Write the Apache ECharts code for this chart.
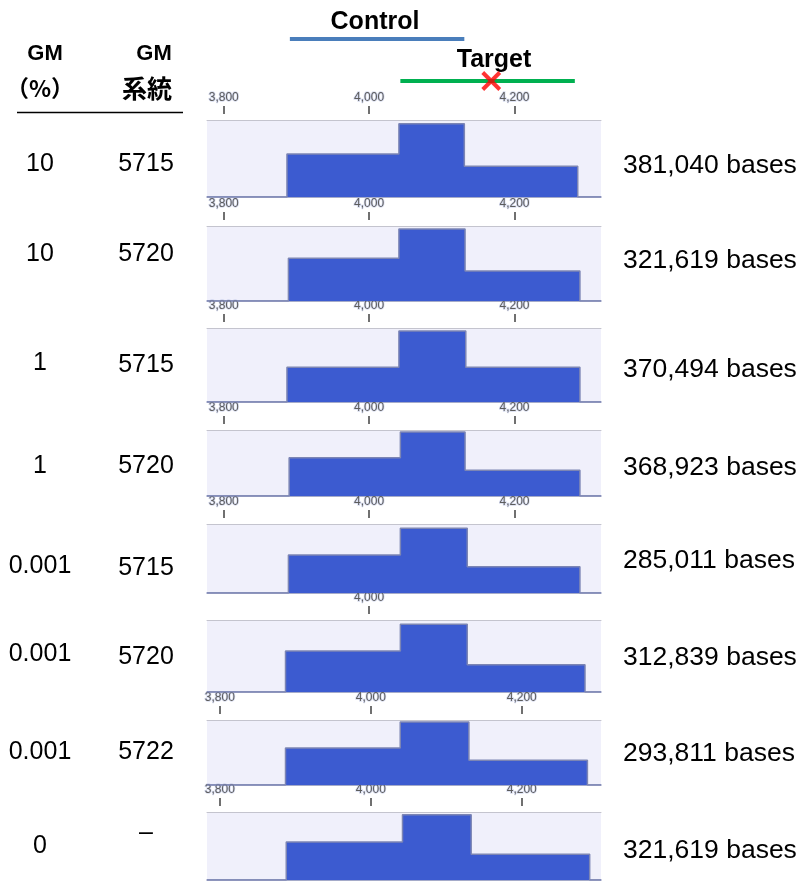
<!DOCTYPE html>
<html>
<head>
<meta charset="utf-8">
<script src="https://cdn.jsdelivr.net/npm/echarts@6/dist/echarts.min.js"></script>
<style>
html,body{margin:0;padding:0;background:#fff}
#c{width:799px;height:881px}
</style>
</head>
<body>
<div id="c"></div>
<script>
// Sample annotations per coverage track
const gmPercent = ['10', '10', '1', '1', '0.001', '0.001', '0.001', '0'];
const gmLine = ['5715', '5720', '5715', '5720', '5715', '5720', '5722', '–'];
const baseCounts = ['381,040', '321,619', '370,494', '368,923', '285,011', '312,839', '293,811', '321,619'];

// Coverage step edges (bp): rise, centre start, centre end, fall
const stepEdges = [
  [3887, 4041, 4131, 4287],
  [3889, 4041, 4132, 4290],
  [3887, 4041, 4133, 4290],
  [3890, 4043, 4132, 4290],
  [3889, 4043, 4135, 4290],
  [3885, 4043, 4135, 4297],
  [3887, 4039, 4130, 4287],
  [3888, 4042, 4133, 4290]
];
// Relative read depth (% of track maximum) of the three plateaus
const depthLeft = [56, 57, 47, 58, 55, 57, 57, 56];
const depthCenter = [95, 96, 96, 97, 94, 94, 97, 96];
const depthRight = [40, 40, 47, 39, 38, 38, 38, 38];

// Ruler tick values shown above each track
const rulerTicks = [
  [3800, 4000, 4200], [3800, 4000, 4200], [3800, 4000, 4200], [3800, 4000, 4200],
  [3800, 4000, 4200], [4000], [3800, 4000, 4200], [3800, 4000, 4200]
];
// Visible window of each track (bp)
const viewMin = [3777, 3777, 3777, 3777, 3777, 3777, 3783, 3783];
const viewMax = [4319, 4319, 4319, 4319, 4319, 4319, 4305, 4305];

// Amplicon regions and mutation site
const regionNames = ['Control', 'Target'];
const controlRegion = [3891, 4131];
const targetRegion = [4043, 4283];
const mutationPos = 4168;

// ---- layout ----
const panelLeft = 207, panelWidth = 394;
const panelTop = [120, 226, 328, 430, 524, 620, 720, 812];
const panelBottom = [197, 301, 402, 496, 593, 692, 785, 880];
const rowY1 = [164, 254, 363, 466, 566, 654, 752, 846];
const rowY2 = [164, 254, 365, 466, 568, 657, 752, 833];
const rowY3 = [166, 261, 370, 468, 561, 658, 754, 851];

const FONT = '"Liberation Sans", Arial, "Noto Sans CJK JP", sans-serif';
const CJK = '"Noto Sans CJK JP", "Liberation Sans", sans-serif';

const grid = [], xAxis = [], yAxis = [], series = [];

const fmt = v => v.toLocaleString('en-US');

stepEdges.forEach((e, i) => {
  grid.push({
    left: panelLeft, width: panelWidth,
    top: panelTop[i], height: panelBottom[i] - panelTop[i],
    show: true, backgroundColor: '#f0f0fb', borderWidth: 0
  });
  const base = { type: 'value', gridIndex: i, min: viewMin[i], max: viewMax[i],
    splitLine: { show: false }, axisTick: { show: false }, axisLabel: { show: false } };
  // bottom baseline
  xAxis.push(Object.assign({}, base, {
    position: 'bottom',
    axisLine: { show: true, lineStyle: { color: '#8890b8', width: 1.5 } }
  }));
  // top border of the track
  xAxis.push(Object.assign({}, base, {
    position: 'top',
    axisLine: { show: true, lineStyle: { color: '#c4c4ce', width: 1 } }
  }));
  // ruler with position ticks
  xAxis.push(Object.assign({}, base, {
    position: 'top', offset: 6,
    axisLine: { show: false },
    axisTick: { show: true, length: 8, customValues: rulerTicks[i],
      lineStyle: { color: '#707070', width: 2 } },
    axisLabel: { show: true, customValues: rulerTicks[i], margin: 10,
      formatter: fmt, fontFamily: FONT, fontSize: 12, color: '#5c5c5c',
      textBorderColor: 'rgba(175,185,225,0.5)', textBorderWidth: 1.5 }
  }));
  yAxis.push({ type: 'value', gridIndex: i, min: 0, max: 100, show: false });

  const l = depthLeft[i], c = depthCenter[i], r = depthRight[i];
  const data = [
    [viewMin[i], 0], [e[0], 0], [e[0], l], [e[1], l], [e[1], c],
    [e[2], c], [e[2], r], [e[3], r], [e[3], 0], [viewMax[i], 0]
  ];
  series.push({
    type: 'line', xAxisIndex: 3 * i, yAxisIndex: i,
    data: data, symbol: 'none', silent: true, animation: false,
    lineStyle: { color: '#7c85b4', width: 1.5 },
    areaStyle: { color: '#3c5bd0', opacity: 1 }
  });
});

// Amplicon region bars above the first track
const gi = grid.length;
grid.push({ left: panelLeft, width: panelWidth, top: 18, height: 84, show: false });
xAxis.push({ type: 'value', gridIndex: gi, min: viewMin[0], max: viewMax[0], show: false });
yAxis.push({ type: 'category', gridIndex: gi, data: regionNames, inverse: true, show: false });
const xi = xAxis.length - 1, yi = yAxis.length - 1;
series.push({
  type: 'line', xAxisIndex: xi, yAxisIndex: yi, symbol: 'none', animation: false,
  data: [[controlRegion[0], 'Control'], [controlRegion[1], 'Control']],
  lineStyle: { color: '#4a7ebb', width: 4 }
});
series.push({
  type: 'line', xAxisIndex: xi, yAxisIndex: yi, symbol: 'none', animation: false,
  data: [[targetRegion[0], 'Target'], [targetRegion[1], 'Target']],
  lineStyle: { color: '#00b050', width: 4 }
});
series.push({
  type: 'scatter', xAxisIndex: xi, yAxisIndex: yi, animation: false, z: 5,
  data: [[mutationPos, 'Target']],
  symbol: 'path://M0,0L10,10M10,0L0,10', symbolSize: 17,
  itemStyle: { color: 'none', borderColor: '#ff0000', borderWidth: 4 }
});

// Text annotations
const graphic = [];
const txt = (text, x, y, opts) => graphic.push({
  type: 'text', silent: true,
  style: Object.assign({ text, x, y, fill: '#000', textAlign: 'center',
    textVerticalAlign: 'middle', font: '25px ' + FONT }, opts || {})
});
txt('Control', 375, 22, { font: 'bold 25px ' + FONT });
txt('Target', 494, 60, { font: 'bold 25px ' + FONT });
txt('GM', 45, 54, { font: 'bold 22px ' + FONT });
txt('（%）', 40, 88, { font: 'bold 23px ' + CJK });
txt('GM', 154, 54, { font: 'bold 22px ' + FONT });
txt('系統', 147, 88, { font: 'bold 25px ' + CJK });
graphic.push({ type: 'line', silent: true,
  shape: { x1: 17, y1: 112.5, x2: 183, y2: 112.5 },
  style: { stroke: '#000', lineWidth: 1.5 } });

gmPercent.forEach((t, i) => txt(t, 40, rowY1[i]));
gmLine.forEach((t, i) => txt(t, 146, rowY2[i]));
baseCounts.forEach((t, i) => txt(t + ' bases', 623, rowY3[i],
  { textAlign: 'left', font: '26.5px ' + FONT }));

const chart = echarts.init(document.getElementById('c'), null, { renderer: 'canvas' });
chart.setOption({
  animation: false,
  backgroundColor: '#ffffff',
  grid, xAxis, yAxis, series, graphic
});
</script>
</body>
</html>
